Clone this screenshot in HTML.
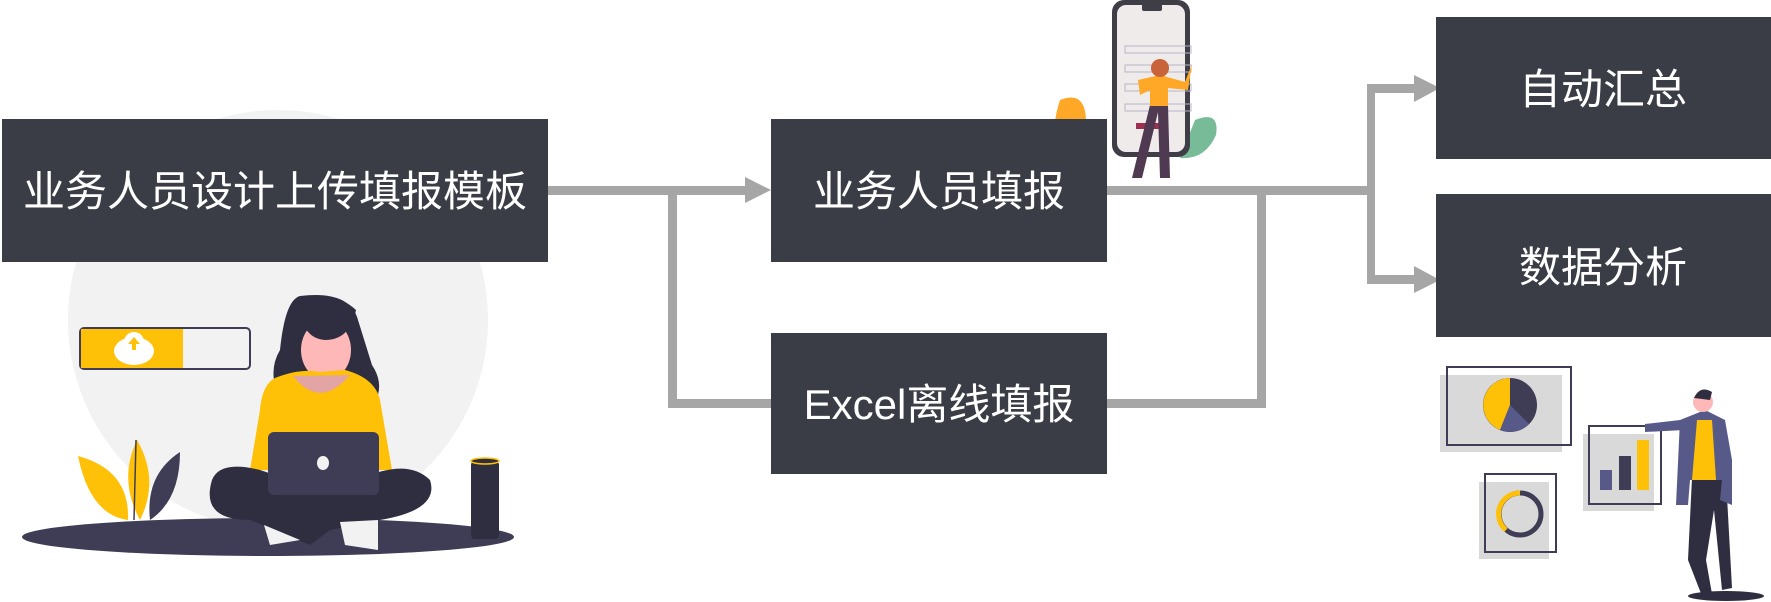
<!DOCTYPE html>
<html><head><meta charset="utf-8"><style>
html,body{margin:0;padding:0;background:#fff;width:1771px;height:602px;overflow:hidden}
.t{font-family:"Liberation Sans","Noto Sans CJK SC",sans-serif;fill:#fff;font-size:42px}
</style></head><body>
<svg width="1771" height="602" viewBox="0 0 1771 602" xmlns="http://www.w3.org/2000/svg">
<circle cx="278" cy="320" r="210" fill="#f2f2f2"/>
<ellipse cx="268" cy="537" rx="246" ry="19" fill="#3f3d56"/>
<rect x="80" y="328" width="170" height="41" rx="4" fill="#f2f2f2" stroke="#3f3d56" stroke-width="2"/>
<rect x="81" y="329" width="102" height="39" fill="#ffc107"/>
<ellipse cx="134" cy="351" rx="20" ry="14" fill="#fff"/>
<circle cx="134" cy="342" r="10" fill="#fff"/>
<path d="M134 337 l-6 7 h4 v6 h4 v-6 h4z" fill="#ffc107"/>
<path d="M78 456 Q130 470 128 520 Q90 515 78 456z" fill="#ffc107"/>
<path d="M137 440 Q160 480 140 520 Q118 480 137 440z" fill="#ffc107"/>
<path d="M180 452 Q180 500 150 520 Q145 475 180 452z" fill="#3f3d56"/>
<line x1="136" y1="440" x2="134" y2="520" stroke="#3f3d56" stroke-width="1.5"/>
<path d="M300 296 Q350 290 358 320 L372 365 Q382 380 378 395 L278 395 Q268 370 280 350 Q285 300 300 296z" fill="#2f2e41"/>
<ellipse cx="326" cy="350" rx="25" ry="30" fill="#ffb8b8"/>
<path d="M300 302 Q335 290 356 310 Q350 340 325 340 Q300 338 300 302z" fill="#2f2e41"/>
<path d="M275 378 Q300 368 320 372 L345 370 Q375 378 380 400 L392 470 L250 470 L260 410 Q262 385 275 378z" fill="#ffc107"/>
<path d="M293 376 Q320 410 350 375 Z" fill="#e3a4a4"/>
<path d="M212 480 Q200 520 250 520 L310 545 L330 530 L380 520 Q440 510 430 480 Q410 460 370 475 L320 490 L260 470 Q220 460 212 480z" fill="#2f2e41"/>
<path d="M264 525 L300 540 L270 545 Z" fill="#f2f2f2"/>
<path d="M340 522 L378 520 L378 550 L345 545Z" fill="#f2f2f2"/>
<rect x="268" y="432" width="111" height="63" rx="6" fill="#3f3d56"/>
<ellipse cx="323" cy="463" rx="6" ry="7" fill="#f2f2f2"/>
<rect x="471" y="461" width="28" height="78" rx="4" fill="#2f2e41"/>
<ellipse cx="485" cy="461" rx="14" ry="3" fill="#2f2e41" stroke="#ffc107" stroke-width="1.5"/>
<path d="M1060 100 Q1085 90 1086 120 L1092 170 L1055 170 Q1050 130 1060 100z" fill="#ffa726"/>
<path d="M1195 120 Q1220 110 1216 135 Q1205 160 1180 158 Z" fill="#77bb99"/>
<rect x="1112" y="0" width="78" height="157" rx="12" fill="#3f3d46"/>
<rect x="1117" y="5" width="68" height="147" rx="9" fill="#efebea"/>
<rect x="1142" y="4" width="20" height="7" rx="2" fill="#3f3d46"/>
<g fill="none" stroke="#b8b4c8" stroke-width="1"><rect x="1125" y="46" width="66" height="7"/><rect x="1125" y="65" width="66" height="7"/><rect x="1125" y="84" width="66" height="7"/><rect x="1125" y="104" width="66" height="7"/></g>
<rect x="1136" y="123" width="25" height="6" fill="#9c3050"/>
<path d="M1150 105 L1132 178 L1142 178 L1158 112 L1160 178 L1170 178 L1168 105z" fill="#4f3a52"/>
<path d="M1138 80 L1160 75 L1185 82 L1192 64 L1188 90 L1168 88 L1168 106 L1150 106 L1150 90 L1140 95Z" fill="#ffa726"/>
<circle cx="1160" cy="68" r="9" fill="#c8633a"/>
<g fill="#a6a6a6">
<rect x="548" y="186" width="200" height="9"/>
<polygon points="745,177 771,190 745,203"/>
<rect x="668" y="194" width="9" height="214"/>
<rect x="668" y="399" width="103" height="9"/>
<rect x="1107" y="186" width="267" height="9"/>
<rect x="1257" y="194" width="9" height="214"/>
<rect x="1107" y="399" width="159" height="9"/>
<rect x="1367" y="84" width="8" height="200"/>
<rect x="1367" y="84" width="50" height="9"/>
<polygon points="1414,75 1440,88 1414,102"/>
<rect x="1367" y="275" width="50" height="9"/>
<polygon points="1414,266 1440,280 1414,293"/>
</g>
<g fill="#3a3d46">
<rect x="2" y="119" width="546" height="143"/>
<rect x="771" y="119" width="336" height="143"/>
<rect x="771" y="333" width="336" height="141"/>
<rect x="1436" y="17" width="335" height="142"/>
<rect x="1436" y="194" width="335" height="143"/>
</g>
<text class="t" x="275" y="206" text-anchor="middle">业务人员设计上传填报模板</text>
<text class="t" x="939" y="206" text-anchor="middle">业务人员填报</text>
<text class="t" x="939" y="419" text-anchor="middle">Excel离线填报</text>
<text class="t" x="1603" y="104" text-anchor="middle">自动汇总</text>
<text class="t" x="1603" y="282" text-anchor="middle">数据分析</text>
<rect x="1440" y="375" width="122" height="77" fill="#d9d9d9"/>
<rect x="1447" y="367" width="124" height="78" fill="none" stroke="#3f3d56" stroke-width="2"/>
<circle cx="1510" cy="405" r="27" fill="#3f3d56"/>
<path d="M1510 405 L1510 378 A27 27 0 0 0 1500 430 Z" fill="#ffc107"/>
<path d="M1510 405 L1500 430 A27 27 0 0 0 1529 424 Z" fill="#575a89"/>
<rect x="1583" y="434" width="71" height="77" fill="#d9d9d9"/>
<rect x="1589" y="426" width="72" height="78" fill="none" stroke="#3f3d56" stroke-width="2"/>
<rect x="1600" y="470" width="12" height="20" fill="#575a89"/>
<rect x="1619" y="456" width="12" height="34" fill="#3f3d56"/>
<rect x="1637" y="440" width="12" height="50" fill="#ffc107"/>
<rect x="1479" y="482" width="70" height="77" fill="#d9d9d9"/>
<rect x="1485" y="474" width="71" height="78" fill="none" stroke="#3f3d56" stroke-width="2"/>
<circle cx="1520" cy="514" r="21" fill="none" stroke="#3f3d56" stroke-width="5"/>
<path d="M1520 493 A21 21 0 0 0 1506 530" fill="none" stroke="#ffc107" stroke-width="5"/>
<ellipse cx="1726" cy="596" rx="38" ry="5" fill="#2f2e41"/>
<path d="M1692 478 L1688 560 L1702 596 L1712 594 L1706 560 L1714 510 L1722 590 L1732 588 L1726 478Z" fill="#2f2e41"/>
<path d="M1680 420 L1705 410 L1725 420 L1732 460 L1732 505 L1720 500 L1722 480 L1690 480 L1688 505 L1676 505Z" fill="#575a89"/>
<path d="M1697 420 L1712 420 L1716 480 L1692 480Z" fill="#ffc107"/>
<path d="M1680 420 L1645 424 L1645 432 L1684 430Z" fill="#575a89"/>
<circle cx="1703" cy="402" r="10" fill="#ffb8b8"/>
<path d="M1694 398 Q1700 385 1712 392 L1710 400Z" fill="#2f2e41"/>
</svg>
</body></html>
